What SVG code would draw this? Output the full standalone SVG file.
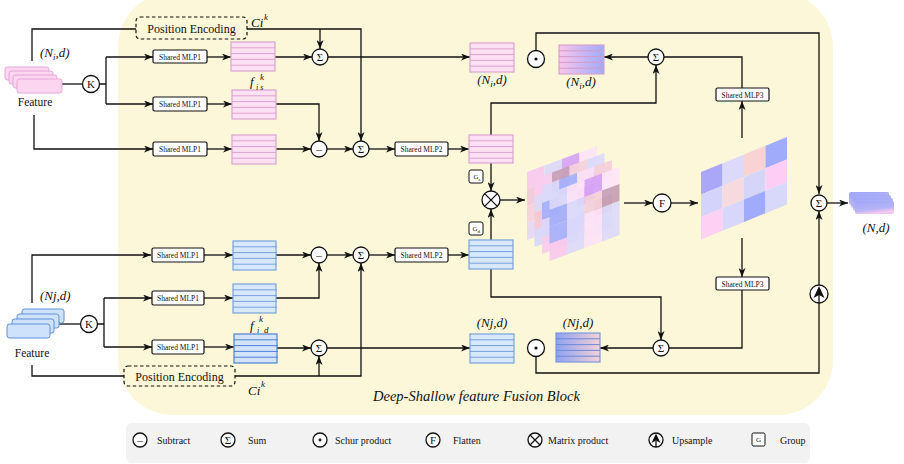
<svg xmlns="http://www.w3.org/2000/svg" xmlns:xlink="http://www.w3.org/1999/xlink" width="904" height="464" viewBox="0 0 904 464" font-family="'Liberation Serif', 'Times New Roman', serif">
<style>
  text { font-family: "Liberation Serif", "Times New Roman", serif; font-weight: normal; fill: #111; }
  .it { font-style: italic; }
  .ln { fill: none; stroke: #111; stroke-width: 1.3; }
  .ar { fill: none; stroke: #111; stroke-width: 1.3; marker-end: url(#ah); }
  .op { fill: #fff; stroke: #111; stroke-width: 1.3; }
  .mlp { fill: #fff; stroke: #111; stroke-width: 1.2; }
  .mt { font-size: 7.5px; text-anchor: middle; }
  .pe { fill: #fdf7da; stroke: #111; stroke-width: 1.2; stroke-dasharray: 3.5 2.5; }
  .pkb { fill: #fde0f4; stroke: #dba3cf; stroke-width: 1.2; }
  .pks { stroke: #dba3cf; stroke-width: 1; fill: none; }
  .blb { fill: #d7e7fc; stroke: #78a2dc; stroke-width: 1.2; }
  .bls { stroke: #78a2dc; stroke-width: 1; fill: none; }
  .bdb { fill: #d2e3fb; stroke: #4f80d0; stroke-width: 1.2; }
  .bds { stroke: #4f80d0; stroke-width: 1; fill: none; }
  .sym { font-size: 11px; text-anchor: middle; }
  .lab { font-size: 13px; font-style: italic; }
  .leg { font-size: 10px; }
</style>
<defs>
  <marker id="ah" markerUnits="userSpaceOnUse" markerWidth="9" markerHeight="7" refX="9" refY="3.5" orient="auto">
    <path d="M0,0 L9,3.5 L0,7 L2.5,3.5 Z" fill="#111"/>
  </marker>
  <linearGradient id="gTop" x1="0" y1="0" x2="1" y2="0">
    <stop offset="0" stop-color="#fbc6ea"/><stop offset="1" stop-color="#9eabfb"/>
  </linearGradient>
  <linearGradient id="gBot" x1="0" y1="0" x2="1" y2="0">
    <stop offset="0" stop-color="#8ea2f2"/><stop offset="1" stop-color="#f4d0d6"/>
  </linearGradient>
  <linearGradient id="gOut" x1="0" y1="0" x2="0.35" y2="1">
    <stop offset="0" stop-color="#9ea6f8"/><stop offset="0.7" stop-color="#b6b4f6"/><stop offset="1" stop-color="#f6c8f0"/>
  </linearGradient>
  <!-- horizontal row separators of a 5-row feature block -->
  <path id="rows" d="M0,5.8H44M0,11.6H44M0,17.4H44M0,23.2H44"/>
</defs>

<!-- fusion block background -->
<rect x="118" y="-8" width="715" height="423" rx="55" fill="#fdf7da"/>
<!-- legend panel -->
<rect x="126" y="423" width="684" height="40" rx="6" fill="#f2f2f2"/>

<!-- connectors -->
<g id="connectors">
  <!-- shallow branch (top) -->
  <path class="ln" d="M62,84H83"/>
  <path class="ln" d="M100,84H106M106,57V104"/>
  <path class="ar" d="M106,57H153"/>
  <path class="ar" d="M106,104H153"/>
  <path class="ar" d="M34,115V149H153"/>
  <path class="ln" d="M32,61V29H136"/>
  <path class="ar" d="M207,57H231"/>
  <path class="ar" d="M207,104H232"/>
  <path class="ar" d="M207,149H232"/>
  <path class="ar" d="M275,57H312"/>
  <path class="ar" d="M247,29H361V141"/>
  <path class="ar" d="M320,29V49"/>
  <path class="ar" d="M328,57H470"/>
  <path class="ar" d="M276,104H319V141"/>
  <path class="ar" d="M276,149H311"/>
  <path class="ar" d="M327,149H353"/>
  <path class="ar" d="M369,149H395"/>
  <path class="ar" d="M448,149H469"/>
  <path class="ar" d="M491,135V103H656V65"/>
  <path class="ar" d="M491,163V191"/>
  <path class="ln" d="M742,88V57H664"/>
  <path class="ar" d="M648,57H604"/>
  <path class="ar" d="M742,138V101"/>
  <path class="ar" d="M536,51V33H819V194"/>
  <!-- fusion core -->
  <path class="ar" d="M500,200H525"/>
  <path class="ar" d="M624,203H653"/>
  <path class="ar" d="M671,203H698"/>
  <path class="ar" d="M742,238V277"/>
  <path class="ln" d="M742,290V348H669"/>
  <path class="ar" d="M653,348H600"/>
  <path class="ar" d="M491,269V297H661V340"/>
  <path class="ar" d="M491,240V209"/>
  <path class="ln" d="M536,356V373H819V303"/>
  <path class="ar" d="M819,285V211"/>
  <path class="ar" d="M827,203H848"/>
  <!-- deep branch (bottom) -->
  <path class="ln" d="M58,324H80"/>
  <path class="ln" d="M98,324H104M104,298V347"/>
  <path class="ar" d="M104,298H152"/>
  <path class="ar" d="M104,347H152"/>
  <path class="ar" d="M32,303V255H151"/>
  <path class="ln" d="M32,365V376H124"/>
  <path class="ar" d="M204,255H233"/>
  <path class="ar" d="M204,298H233"/>
  <path class="ar" d="M204,347H234"/>
  <path class="ar" d="M276,255H311"/>
  <path class="ar" d="M276,298H319V263"/>
  <path class="ar" d="M327,255H353"/>
  <path class="ar" d="M369,255H395"/>
  <path class="ar" d="M448,255H469"/>
  <path class="ar" d="M277,348H311"/>
  <path class="ar" d="M235,376H361V263"/>
  <path class="ar" d="M319,376V356"/>
  <path class="ar" d="M327,348H470"/>
</g>

<!-- input feature: shallow -->
<g id="feat-shallow">
  <rect x="5" y="67" width="44" height="13" rx="2.5" fill="#fcd6f0" stroke="#e6a6d6"/>
  <rect x="9" y="71" width="44" height="13" rx="2.5" fill="#fcd6f0" stroke="#e6a6d6"/>
  <rect x="13" y="75" width="44" height="13" rx="2.5" fill="#fcd6f0" stroke="#e6a6d6"/>
  <rect x="17" y="79" width="45" height="14" rx="2.5" fill="#fcd6f0" stroke="#e6a6d6"/>
  <text class="lab" x="40" y="57">(N<tspan font-size="9" dy="3">i</tspan><tspan dy="-3">,d)</tspan></text>
  <text x="35" y="106" font-size="11.5" text-anchor="middle">Feature</text>
</g>
<g id="knn-shallow"><circle class="op" cx="91" cy="84" r="8.5"/><text class="sym" x="91" y="88">K</text></g>

<g id="pe-shallow">
  <rect class="pe" x="136" y="17" width="111" height="22" rx="4"/>
  <text x="191.5" y="32.5" font-size="12" text-anchor="middle">Position Encoding</text>
  <text class="it" x="251" y="27" font-size="13">Ci</text><text class="it" x="264" y="20" font-size="9">k</text>
</g>

<g id="mlp1-s1"><rect class="mlp" x="153" y="50" width="54" height="13" rx="1.5"/><text class="mt" x="180" y="59.5">Shared MLP1</text></g>
<g id="mlp1-s2"><rect class="mlp" x="153" y="97" width="54" height="14" rx="1.5"/><text class="mt" x="180" y="106.5">Shared MLP1</text></g>
<g id="mlp1-s3"><rect class="mlp" x="153" y="142" width="54" height="14" rx="1.5"/><text class="mt" x="180" y="151.5">Shared MLP1</text></g>

<g id="blk-s1"><rect class="pkb" x="231" y="42" width="44" height="29"/><use href="#rows" x="231" y="42" class="pks"/></g>
<g id="blk-s2"><rect class="pkb" x="232" y="90" width="44" height="29"/><use href="#rows" x="232" y="90" class="pks"/>
  <text class="it" x="250" y="86" font-size="13">f</text><text class="it" x="260" y="80" font-size="9">k</text><text class="it" x="256" y="90" font-size="8">i s</text></g>
<g id="blk-s3"><rect class="pkb" x="232" y="135" width="44" height="29"/><use href="#rows" x="232" y="135" class="pks"/></g>

<g id="sum-s1"><circle class="op" cx="320" cy="57" r="8"/><text class="sym" x="320" y="61">Σ</text></g>
<g id="sub-s"><circle class="op" cx="319" cy="149" r="8"/><text class="sym" x="319" y="153">–</text></g>
<g id="sum-s2"><circle class="op" cx="361" cy="149" r="8"/><text class="sym" x="361" y="153">Σ</text></g>
<g id="mlp2-s"><rect class="mlp" x="395" y="142" width="53" height="14" rx="1.5"/><text class="mt" x="421.5" y="151.5">Shared MLP2</text></g>

<g id="out-s"><rect class="pkb" x="470" y="43" width="44" height="29"/><use href="#rows" x="470" y="43" class="pks"/>
  <text class="lab" x="492" y="84" text-anchor="middle">(N<tspan font-size="9" dy="3">i</tspan><tspan dy="-3">,d)</tspan></text></g>
<g id="blk-s4"><rect class="pkb" x="469" y="135" width="44" height="28"/><use href="#rows" x="469" y="135" class="pks"/></g>
<g id="grp-s"><rect x="469" y="170" width="14" height="13" rx="2" fill="#fff" stroke="#111" stroke-width="1"/><text x="473.5" y="179" font-size="7">G<tspan font-size="5" dy="1.5">s</tspan></text></g>

<g id="schur-s"><circle class="op" cx="536" cy="59" r="8.5"/><circle cx="536" cy="59" r="1.6" fill="#111"/></g>
<g id="res-s"><rect x="559" y="45" width="45" height="29" fill="url(#gTop)" stroke="#d9a2cc" stroke-width="1.2"/><use href="#rows" x="559" y="45" stroke="#d49bc7" stroke-width="1" fill="none"/>
  <text class="lab" x="581" y="86" text-anchor="middle">(N<tspan font-size="9" dy="3">i</tspan><tspan dy="-3">,d)</tspan></text></g>
<g id="sum-s3"><circle class="op" cx="656" cy="57" r="8"/><text class="sym" x="656" y="61">Σ</text></g>
<g id="mlp3-s"><rect class="mlp" x="716" y="88" width="53" height="13" rx="1.5"/><text class="mt" x="742.5" y="97.5">Shared MLP3</text></g>

<!-- fusion core -->
<g id="matmul"><circle class="op" cx="491" cy="200" r="9"/><path class="ln" d="M484.6,193.6L497.4,206.4M497.4,193.6L484.6,206.4"/></g>

<g id="attn-stack">
  <g transform="matrix(1,-0.371,0,1,527,172)" opacity="0.92">
    <rect x="0" y="0" width="17.5" height="17" fill="#f8c9ee"/><rect x="17.5" y="0" width="17.5" height="17" fill="#dcd9fa"/><rect x="35" y="0" width="17.5" height="17" fill="#d7a4f6"/><rect x="52.5" y="0" width="17.5" height="17" fill="#fde5f7"/>
    <rect x="0" y="17" width="17.5" height="17" fill="#f3c9dc"/><rect x="17.5" y="17" width="17.5" height="17" fill="#e0d9f7"/><rect x="35" y="17" width="17.5" height="17" fill="#a7b1fb"/><rect x="52.5" y="17" width="17.5" height="17" fill="#fde6f8"/>
    <rect x="0" y="34" width="17.5" height="17" fill="#f7d0dc"/><rect x="17.5" y="34" width="17.5" height="17" fill="#d8d6fb"/><rect x="35" y="34" width="17.5" height="17" fill="#fbdff3"/><rect x="52.5" y="34" width="17.5" height="17" fill="#e3dbf8"/>
    <rect x="0" y="51" width="17.5" height="17" fill="#e6d8f6"/><rect x="17.5" y="51" width="17.5" height="17" fill="#f9d4e4"/><rect x="35" y="51" width="17.5" height="17" fill="#dcd9fa"/><rect x="52.5" y="51" width="17.5" height="17" fill="#fde6f7"/>
  </g>
  <g transform="matrix(1,-0.371,0,1,534.5,179)" opacity="0.92">
    <rect x="0" y="0" width="17.5" height="17" fill="#fbcdef"/><rect x="17.5" y="0" width="17.5" height="17" fill="#c8a0b6"/><rect x="35" y="0" width="17.5" height="17" fill="#f6d3dc"/><rect x="52.5" y="0" width="17.5" height="17" fill="#dcdafa"/>
    <rect x="0" y="17" width="17.5" height="17" fill="#dedafb"/><rect x="17.5" y="17" width="17.5" height="17" fill="#a3affa"/><rect x="35" y="17" width="17.5" height="17" fill="#fde4f6"/><rect x="52.5" y="17" width="17.5" height="17" fill="#d8a6f5"/>
    <rect x="0" y="34" width="17.5" height="17" fill="#f4c9d7"/><rect x="17.5" y="34" width="17.5" height="17" fill="#dad8fb"/><rect x="35" y="34" width="17.5" height="17" fill="#fce2f5"/><rect x="52.5" y="34" width="17.5" height="17" fill="#dcdafa"/>
    <rect x="0" y="51" width="17.5" height="17" fill="#d9d7fb"/><rect x="17.5" y="51" width="17.5" height="17" fill="#fbd3ed"/><rect x="35" y="51" width="17.5" height="17" fill="#a9b3fb"/><rect x="52.5" y="51" width="17.5" height="17" fill="#fde6f7"/>
  </g>
  <g transform="matrix(1,-0.371,0,1,542,186)" opacity="0.92">
    <rect x="0" y="0" width="17.5" height="17" fill="#dcdafa"/><rect x="17.5" y="0" width="17.5" height="17" fill="#a7b2fb"/><rect x="35" y="0" width="17.5" height="17" fill="#fce0f5"/><rect x="52.5" y="0" width="17.5" height="17" fill="#f6d0d8"/>
    <rect x="0" y="17" width="17.5" height="17" fill="#a4b0fb"/><rect x="17.5" y="17" width="17.5" height="17" fill="#dcdafa"/><rect x="35" y="17" width="17.5" height="17" fill="#d6a4f5"/><rect x="52.5" y="17" width="17.5" height="17" fill="#fde6f7"/>
    <rect x="0" y="34" width="17.5" height="17" fill="#dad8fa"/><rect x="17.5" y="34" width="17.5" height="17" fill="#fde3f6"/><rect x="35" y="34" width="17.5" height="17" fill="#dcdafa"/><rect x="52.5" y="34" width="17.5" height="17" fill="#c9a1b6"/>
    <rect x="0" y="51" width="17.5" height="17" fill="#f9cdee"/><rect x="17.5" y="51" width="17.5" height="17" fill="#d7d5fb"/><rect x="35" y="51" width="17.5" height="17" fill="#fbe1f4"/><rect x="52.5" y="51" width="17.5" height="17" fill="#dcdafa"/>
  </g>
  <g transform="matrix(1,-0.371,0,1,549.5,193)" opacity="0.92">
    <rect x="0" y="0" width="17.5" height="17" fill="#dcdafa"/><rect x="17.5" y="0" width="17.5" height="17" fill="#fde3f6"/><rect x="35" y="0" width="17.5" height="17" fill="#d6a3f5"/><rect x="52.5" y="0" width="17.5" height="17" fill="#fde6f7"/>
    <rect x="0" y="17" width="17.5" height="17" fill="#a3aff9"/><rect x="17.5" y="17" width="17.5" height="17" fill="#dcdafa"/><rect x="35" y="17" width="17.5" height="17" fill="#f6d1d9"/><rect x="52.5" y="17" width="17.5" height="17" fill="#c7a0b4"/>
    <rect x="0" y="34" width="17.5" height="17" fill="#a8b2fa"/><rect x="17.5" y="34" width="17.5" height="17" fill="#d9d7fb"/><rect x="35" y="34" width="17.5" height="17" fill="#fde4f6"/><rect x="52.5" y="34" width="17.5" height="17" fill="#dcdafa"/>
    <rect x="0" y="51" width="17.5" height="17" fill="#f9c9ee"/><rect x="17.5" y="51" width="17.5" height="17" fill="#dcdafa"/><rect x="35" y="51" width="17.5" height="17" fill="#fce3f5"/><rect x="52.5" y="51" width="17.5" height="17" fill="#dcdafa"/>
  </g>
</g>

<g id="flatten"><circle class="op" cx="662" cy="203" r="9"/><text class="sym" x="662" y="207">F</text></g>

<g id="flat-map" transform="matrix(1,-0.407,0,1,701,172)">
  <rect x="0" y="0" width="21.5" height="22.5" fill="#aaa6f8"/><rect x="21.5" y="0" width="21.5" height="22.5" fill="#dcdafb"/><rect x="43" y="0" width="21.5" height="22.5" fill="#f9d3d3"/><rect x="64.5" y="0" width="21.5" height="22.5" fill="#a0acfb"/>
  <rect x="0" y="22.5" width="21.5" height="22.5" fill="#d3d3fb"/><rect x="21.5" y="22.5" width="21.5" height="22.5" fill="#f6dade"/><rect x="43" y="22.5" width="21.5" height="22.5" fill="#d5d5fa"/><rect x="64.5" y="22.5" width="21.5" height="22.5" fill="#fdcdf6"/>
  <rect x="0" y="45" width="21.5" height="22.5" fill="#fdd0f4"/><rect x="21.5" y="45" width="21.5" height="22.5" fill="#d8d6fa"/><rect x="43" y="45" width="21.5" height="22.5" fill="#a0acfb"/><rect x="64.5" y="45" width="21.5" height="22.5" fill="#d8d8fa"/>
</g>

<g id="sum-out"><circle class="op" cx="819" cy="203" r="8"/><text class="sym" x="819" y="207">Σ</text></g>
<g id="upsample"><circle class="op" cx="819" cy="294" r="9"/><path d="M819,286 L824.5,298 L819,295 L813.5,298 Z" fill="#111"/><path class="ln" d="M819,295V303"/></g>

<g id="output">
  <rect x="849" y="192" width="40" height="13" rx="2" fill="url(#gOut)"/>
  <rect x="851" y="195" width="40" height="13" rx="2" fill="url(#gOut)"/>
  <rect x="853" y="198" width="40" height="13" rx="2" fill="url(#gOut)"/>
  <rect x="855" y="201" width="39" height="13" rx="2" fill="url(#gOut)"/>
  <text class="lab" x="876" y="232" text-anchor="middle">(N,d)</text>
</g>

<!-- deep branch -->
<g id="feat-deep">
  <rect x="22" y="309" width="42" height="14" rx="2.5" fill="#cfe2fb" stroke="#5e8fd8"/>
  <rect x="17" y="314" width="42" height="14" rx="2.5" fill="#cfe2fb" stroke="#5e8fd8"/>
  <rect x="12" y="319" width="42" height="14" rx="2.5" fill="#cfe2fb" stroke="#5e8fd8"/>
  <rect x="7" y="324" width="43" height="14" rx="2.5" fill="#cfe2fb" stroke="#5e8fd8"/>
  <text class="lab" x="40" y="300">(Nj,d)</text>
  <text x="32" y="357" font-size="11.5" text-anchor="middle">Feature</text>
</g>
<g id="knn-deep"><circle class="op" cx="89" cy="324" r="8.5"/><text class="sym" x="89" y="328">K</text></g>

<g id="pe-deep">
  <rect class="pe" x="124" y="366" width="111" height="20" rx="4"/>
  <text x="179.5" y="380.5" font-size="12" text-anchor="middle">Position Encoding</text>
  <text class="it" x="248" y="395" font-size="13">Ci</text><text class="it" x="261" y="387" font-size="9">k</text>
</g>

<g id="mlp1-d1"><rect class="mlp" x="152" y="248" width="52" height="14" rx="1.5"/><text class="mt" x="178" y="257.5">Shared MLP1</text></g>
<g id="mlp1-d2"><rect class="mlp" x="152" y="291" width="52" height="14" rx="1.5"/><text class="mt" x="178" y="300.5">Shared MLP1</text></g>
<g id="mlp1-d3"><rect class="mlp" x="152" y="340" width="52" height="14" rx="1.5"/><text class="mt" x="178" y="349.5">Shared MLP1</text></g>

<g id="blk-d1"><rect class="blb" x="233" y="241" width="43" height="29"/><use href="#rows" x="233" y="241" class="bls"/></g>
<g id="blk-d2"><rect class="blb" x="233" y="284" width="43" height="29"/><use href="#rows" x="233" y="284" class="bls"/></g>
<g id="blk-d3"><rect class="bdb" x="234" y="334" width="43" height="29"/><use href="#rows" x="234" y="334" class="bds"/>
  <text class="it" x="250" y="330" font-size="13">f</text><text class="it" x="259" y="322" font-size="9">k</text><text class="it" x="257" y="333" font-size="8">i</text><text class="it" x="264" y="333" font-size="9">d</text></g>

<g id="sub-d"><circle class="op" cx="319" cy="255" r="8"/><text class="sym" x="319" y="259">–</text></g>
<g id="sum-d1"><circle class="op" cx="361" cy="255" r="8"/><text class="sym" x="361" y="259">Σ</text></g>
<g id="sum-d2"><circle class="op" cx="319" cy="348" r="8"/><text class="sym" x="319" y="352">Σ</text></g>
<g id="mlp2-d"><rect class="mlp" x="395" y="248" width="53" height="14" rx="1.5"/><text class="mt" x="421.5" y="257.5">Shared MLP2</text></g>

<g id="blk-d4"><rect class="blb" x="469" y="240" width="44" height="29"/><use href="#rows" x="469" y="240" class="bls"/></g>
<g id="grp-d"><rect x="469" y="222" width="14" height="13" rx="2" fill="#fff" stroke="#111" stroke-width="1"/><text x="472.5" y="231" font-size="7">G<tspan font-size="5" dy="1.5">d</tspan></text></g>

<g id="out-d"><rect class="blb" x="470" y="334" width="44" height="29"/><use href="#rows" x="470" y="334" class="bls"/>
  <text class="lab" x="492" y="327" text-anchor="middle">(Nj,d)</text></g>
<g id="schur-d"><circle class="op" cx="536" cy="348" r="8.5"/><circle cx="536" cy="348" r="1.6" fill="#111"/></g>
<g id="res-d"><rect x="556" y="333" width="44" height="29" fill="url(#gBot)" stroke="#7c98de" stroke-width="1.2"/><use href="#rows" x="556" y="333" stroke="#6f8ad6" stroke-width="1" fill="none"/>
  <text class="lab" x="578" y="327" text-anchor="middle">(Nj,d)</text></g>
<g id="sum-d3"><circle class="op" cx="661" cy="348" r="8"/><text class="sym" x="661" y="352">Σ</text></g>
<g id="mlp3-d"><rect class="mlp" x="716" y="277" width="53" height="13" rx="1.5"/><text class="mt" x="742.5" y="286.5">Shared MLP3</text></g>

<text class="it" x="373" y="401" font-size="14.5">Deep-Shallow  feature Fusion Block</text>

<!-- legend -->
<g id="legend">
  <circle class="op" cx="140" cy="440" r="7"/><text class="sym" x="140" y="444" font-size="10">–</text><text class="leg" x="157" y="443.5">Subtract</text>
  <circle class="op" cx="228" cy="440" r="7"/><text class="sym" x="228" y="443.5" font-size="10">Σ</text><text class="leg" x="248" y="443.5">Sum</text>
  <circle class="op" cx="320" cy="440" r="7"/><circle cx="320" cy="440" r="1.4" fill="#111"/><text class="leg" x="335" y="443.5">Schur product</text>
  <circle class="op" cx="433" cy="440" r="7"/><text class="sym" x="433" y="443.5" font-size="10">F</text><text class="leg" x="453" y="443.5">Flatten</text>
  <circle class="op" cx="535" cy="440" r="7"/><path class="ln" d="M530,435L540,445M540,435L530,445"/><text class="leg" x="548" y="443.5">Matrix product</text>
  <circle class="op" cx="656" cy="440" r="7"/><path d="M656,433.5 L660.5,443 L656,440.5 L651.5,443 Z" fill="#111"/><path class="ln" d="M656,440.5V447"/><text class="leg" x="672" y="443.5">Upsample</text>
  <rect x="752" y="433" width="13" height="13" rx="1.5" fill="#fff" stroke="#111" stroke-width="1"/><text x="758.5" y="442" font-size="7" text-anchor="middle">G</text><text class="leg" x="780" y="443.5">Group</text>
</g>
</svg>
